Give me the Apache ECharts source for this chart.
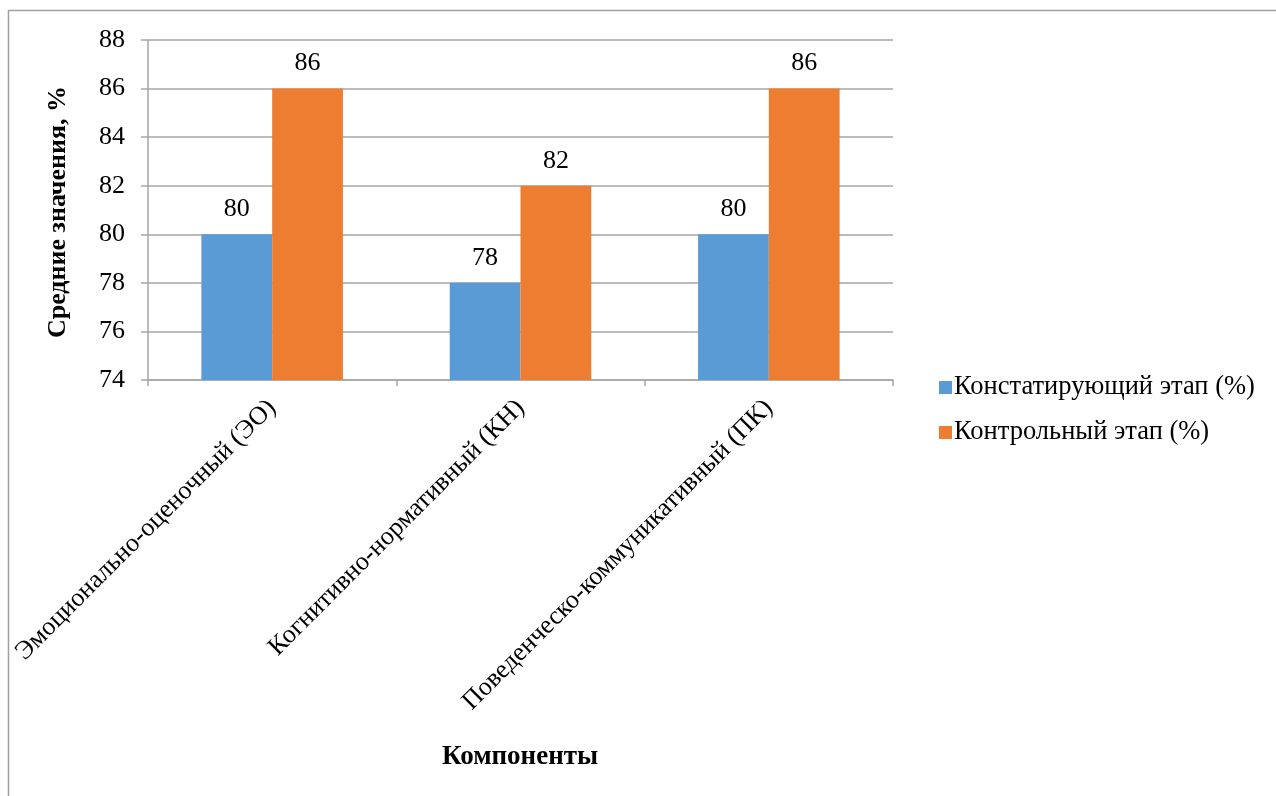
<!DOCTYPE html>
<html>
<head>
<meta charset="utf-8">
<script src="https://cdn.jsdelivr.net/npm/echarts@6/dist/echarts.min.js"></script>
<style>
  html, body { margin: 0; padding: 0; background: #fff; }
  #chart { width: 1276px; height: 796px; }
</style>
</head>
<body>
<div id="chart"></div>
<script>
// Components of the assessment and the two stages' mean scores
const categories = [
  'Эмоционально-оценочный (ЭО)',
  'Когнитивно-нормативный (КН)',
  'Поведенческо-коммуникативный (ПК)'
];
const stageAscertaining = [80, 78, 80];
const stageControl = [86, 82, 86];
const seriesNames = ['Констатирующий этап (%)', 'Контрольный этап (%)'];

const FONT = '"Liberation Serif", "Times New Roman", serif';
const FS = 26;
const AXIS_GRAY = '#a6a6a6';

const chart = echarts.init(document.getElementById('chart'), null, { renderer: 'canvas' });

const labelStyle = {
  show: true,
  position: 'top',
  distance: 12,
  color: '#000',
  fontFamily: FONT,
  fontSize: FS
};

chart.setOption({
  animation: false,
  backgroundColor: '#fff',
  textStyle: { fontFamily: FONT },
  grid: { left: 148, right: 383, top: 40, bottom: 416 },
  legend: {
    orient: 'vertical',
    left: 934,
    top: 369,
    itemWidth: 13,
    itemHeight: 13,
    itemGap: 18,
    icon: 'rect',
    textStyle: { fontFamily: FONT, fontSize: 26.5, color: '#000', padding: [0, 0, 0, -3] },
    data: seriesNames
  },
  xAxis: {
    type: 'category',
    data: categories,
    axisLine: { show: true, lineStyle: { color: AXIS_GRAY, width: 1.5 } },
    axisTick: { show: true, length: 6, alignWithLabel: false, lineStyle: { color: AXIS_GRAY, width: 1.5 } },
    axisLabel: {
      rotate: 45,
      interval: 0,
      margin: 24,
      color: '#000',
      fontFamily: FONT,
      fontSize: FS
    }
  },
  yAxis: {
    type: 'value',
    min: 74,
    max: 88,
    interval: 2,
    axisLine: { show: true, lineStyle: { color: AXIS_GRAY, width: 1.5 } },
    axisTick: { show: true, length: 7, lineStyle: { color: AXIS_GRAY, width: 1.5 } },
    splitLine: { show: true, lineStyle: { color: AXIS_GRAY, width: 1.5 } },
    axisLabel: { margin: 23, color: '#000', fontFamily: FONT, fontSize: FS }
  },
  series: [
    {
      name: seriesNames[0],
      type: 'bar',
      data: stageAscertaining,
      barGap: '0%',
      barCategoryGap: '43%',
      itemStyle: { color: '#5b9bd5' },
      label: labelStyle
    },
    {
      name: seriesNames[1],
      type: 'bar',
      data: stageControl,
      itemStyle: { color: '#ed7d31' },
      label: labelStyle
    }
  ],
  graphic: [
    {
      type: 'rect',
      shape: { x: 8.5, y: 10.5, width: 1400, height: 900 },
      style: { fill: null, stroke: '#a0a0a0', lineWidth: 1.5 },
      silent: true
    },
    {
      type: 'text',
      x: 58,
      y: 212,
      rotation: Math.PI / 2,
      style: {
        text: 'Средние значения, %',
        font: 'bold 26px ' + FONT,
        fill: '#000',
        align: 'center',
        verticalAlign: 'middle'
      }
    },
    {
      type: 'text',
      x: 520,
      y: 757,
      style: {
        text: 'Компоненты',
        font: 'bold 27px ' + FONT,
        fill: '#000',
        align: 'center',
        verticalAlign: 'middle'
      }
    }
  ]
});
</script>
</body>
</html>
